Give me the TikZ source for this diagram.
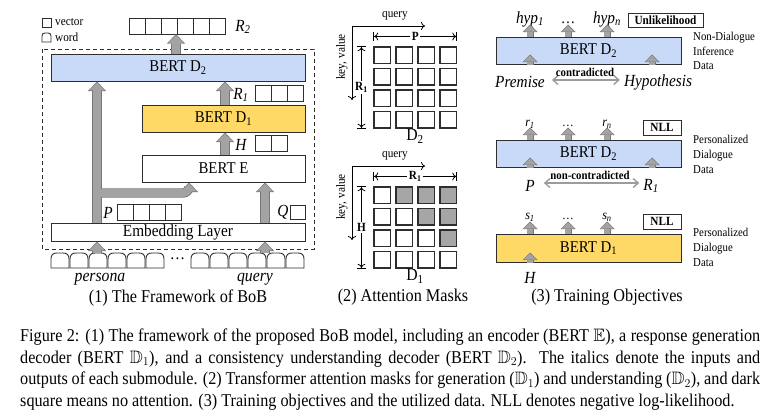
\documentclass[tikz,border=0pt]{standalone}
\usepackage{fontspec}
\usepackage{amssymb}
\setmainfont{Liberation Serif}[FakeStretch=0.9]
\usetikzlibrary{arrows.meta,calc}

\definecolor{dtwo}{HTML}{C9DAF8}
\definecolor{done}{HTML}{FFD966}
\definecolor{arrfill}{HTML}{A3A3A3}
\definecolor{arrdark}{HTML}{777777}
\definecolor{linec}{HTML}{2E2E2E}
\definecolor{maskg}{HTML}{A6A6A6}
\definecolor{dblg}{HTML}{9C9C9C}

\newcommand\fsz[1]{\fontsize{#1}{#1}\selectfont}

\begin{document}
\begin{tikzpicture}[x=1pt, y=-1pt,
    box/.style={draw=linec, line width=1pt, inner sep=0pt, font=\fsz{16.5}},
    vcell/.style={draw=linec, line width=0.9pt, minimum size=16pt, inner sep=0pt},
    mcell/.style={draw=linec, line width=1.1pt, minimum size=16.5pt, inner sep=0pt},
    lab/.style={inner sep=0pt, font=\fsz{17}\itshape},
    slab/.style={inner sep=0pt, font=\fsz{13.5}\itshape},
    tag/.style={draw=linec, line width=1pt, inner sep=0pt, font=\fsz{12.5}\bfseries},
    note/.style={inner sep=0pt, align=left, anchor=west, font=\fontsize{12}{14.8}\selectfont},
    sub/.style={inner sep=0pt, font=\fsz{18}},
    tok/.style={draw=linec, line width=0.9pt},
    bigo/.style={draw=arrdark, line width=9.4pt, -{Triangle[width=18pt,length=9.5pt,line width=0pt]}},
    bigi/.style={draw=arrfill, line width=7.6pt, shorten >=1.1pt, -{Triangle[width=15.4pt,length=7.8pt,line width=0pt]}},
    smlo/.style={draw=arrdark, line width=7pt, -{Triangle[width=15pt,length=7.5pt,line width=0pt]}},
    smli/.style={draw=arrfill, line width=5.4pt, shorten >=1pt, -{Triangle[width=12.8pt,length=6pt,line width=0pt]}},
    axis/.style={draw=black, line width=0.8pt, -{To[length=4pt,width=8pt]}},
    dim/.style={draw=black, line width=0.8pt, {Bar[width=9pt]To[length=4pt,width=8pt]}-{To[length=4pt,width=8pt]Bar[width=9pt]}},
    dimlab/.style={fill=white, inner sep=1.5pt, font=\fsz{12.5}\bfseries},
    dbl/.style={draw=dblg, line width=1.4pt, {Straight Barb[length=5pt,width=9pt]}-{Straight Barb[length=5pt,width=9pt]}}]
\useasboundingbox (0,0) rectangle (782,413);

% (1) 框架
\node[draw=linec, line width=0.8pt, minimum size=9pt, inner sep=0pt] (lgv) at (46.5,22.5) {};
\draw[tok] (42,42) -- (42,36) .. controls (42,34) and (43,33) .. (45,33) -- (48,33) .. controls (50,33) and (51,34) .. (51,36) -- (51,42) -- cycle;
\node[anchor=west, inner sep=0pt, font=\fsz{12.5}] (lgvt) at (55,22.5) {vector};
\node[anchor=west, inner sep=0pt, font=\fsz{12.5}] (lgwt) at (55,37.5) {word};

\draw[linec, line width=1pt, dash pattern=on 4pt off 3pt] (42,49) rectangle (314,249);

\node[box, fill=dtwo, minimum width=254pt, minimum height=27pt] (d2) at (178,67.5) {BERT D\textsubscript{2}};
\node[box, fill=done, minimum width=163pt, minimum height=27pt] (d1) at (223.5,118.5) {BERT D\textsubscript{1}};
\node[box, fill=white, minimum width=163pt, minimum height=27pt] (enc) at (223.5,168.5) {BERT E};
\node[box, fill=white, minimum width=254pt, minimum height=18pt, font=\fsz{17}] (emb) at (178,232) {Embedding Layer};

% 向量
\foreach \i in {0,...,5} \node[vcell] (r2c\i) at (137+16*\i,26) {};
\foreach \i in {0,...,2} \node[vcell] (r1c\i) at (263+16*\i,93) {};
\foreach \i in {0,...,1} \node[vcell] (hc\i) at (263+16*\i,143.5) {};
\foreach \i in {0,...,3} \node[vcell] (pc\i) at (125+16*\i,212.5) {};
\node[vcell, minimum size=14.5pt] (qc0) at (298,212.5) {};

\node[lab] (lr2) at (243,27) {R\textsubscript{2}};
\node[lab] (lr1) at (241,95) {R\textsubscript{1}};
\node[lab] (lh) at (241,145) {H};
\node[lab] (lp) at (108,212.5) {P};
\node[lab] (lq) at (283,212.5) {Q};

% 输入词
\foreach \k in {0,...,5} {
  \foreach \gx in {51,191}
    \draw[tok] (\gx+19*\k,268) -- (\gx+19*\k,259) .. controls (\gx+19*\k,255) and (\gx+2+19*\k,253) .. (\gx+6+19*\k,253)
      -- (\gx+12+19*\k,253) .. controls (\gx+16+19*\k,253) and (\gx+18+19*\k,255) .. (\gx+18+19*\k,259) -- (\gx+18+19*\k,268) -- cycle;
}
\node[inner sep=0pt, font=\fsz{17}] (wdots) at (177.5,259) {\dots};
\node[lab, font=\fsz{17.5}\itshape] (lpers) at (100,279) {persona};
\node[lab, font=\fsz{17.5}\itshape] (lquery) at (255,279) {query};

\coordinate (cp) at (97,253);
\coordinate (cq) at (265,253);
\coordinate (jn) at (97,193);
\coordinate (cb) at (189,0);
\coordinate (cr) at (225,0);
\coordinate (cr2) at (176,34);

\foreach \s in {bigo,bigi} {
  \draw[\s] (cp) -- (emb.south -| cp);
  \draw[\s] (cq) -- (emb.south -| cq);
  \draw[\s] (emb.north -| cp) -- (d2.south -| cp);
  \draw[\s, rounded corners=6pt] (jn) -| (enc.south -| cb);
  \draw[\s] (emb.north -| cq) -- (enc.south -| cq);
  \draw[\s] (enc.north -| cr) -- (d1.south -| cr);
  \draw[\s] (d1.north -| cr) -- (d2.south -| cr);
  \draw[\s] (d2.north -| cr2) -- (cr2);
}

\node[sub] (cap1) at (178,298) {(1) The Framework of BoB};

% (2) 注意力掩码
\foreach \m/\dy/\tp/\sd/\nm in {a/0/P/R\textsubscript{1}/D\textsubscript{2}, b/140/R\textsubscript{1}/H/D\textsubscript{1}} {
  \foreach \i in {0,...,3}
    \foreach \j in {0,...,3} {
      \pgfmathtruncatemacro\gr{(\dy>0)&&(\i>\j)}
      \ifnum\gr=1 \def\fc{maskg}\else\def\fc{white}\fi
      \node[mcell, fill=\fc] (\m\i\j) at (382.25+22*\i,55.25+21.5*\j+\dy) {};
    }
  \coordinate (\m o) at (352,26+\dy);
  \coordinate (\m x) at (425,26+\dy);
  \coordinate (\m y) at (352,100+\dy);
  \draw[axis] (\m o) -- (\m x);
  \draw[axis] (\m o) -- (\m y);
  \node[inner sep=0pt, font=\fsz{12.5}] (\m q) at (395,16+\dy) {query};
  \node[inner sep=0pt, font=\fsz{12.5}, rotate=90] (\m k) at (342,57+\dy) {key, value};
  \draw[dim] ($(\m00.north west)+(0,10pt)$) -- node[dimlab] (\m t) {\tp} ($(\m30.north east)+(0,10pt)$);
  \draw[dim] ($(\m00.north west)+(-12pt,0)$) -- node[dimlab] (\m s) {\sd} ($(\m03.south west)+(-12pt,0)$);
  \node[inner sep=0pt, font=\fsz{17.5}] (\m n) at (415,136+\dy) {\nm};
}
\node[sub] (cap2) at (403,297) {(2) Attention Masks};

% (3) 训练目标
\node[box, fill=dtwo, minimum width=185pt, minimum height=27pt] (t1) at (588.5,50.5) {BERT D\textsubscript{2}};
\node[box, fill=dtwo, minimum width=185pt, minimum height=27pt] (t2) at (588.5,153.5) {BERT D\textsubscript{2}};
\node[box, fill=done, minimum width=185pt, minimum height=28pt] (t3) at (588.5,248) {BERT D\textsubscript{1}};

\node[tag, minimum width=75pt, minimum height=14pt] (ul) at (665.5,20) {Unlikelihood};
\node[tag, minimum width=38pt, minimum height=15pt] (nll1) at (662,127.5) {NLL};
\node[tag, minimum width=38pt, minimum height=15pt] (nll2) at (662,221.5) {NLL};

\node[note] (n1) at (693,51) {Non-Dialogue\\Inference\\Data};
\node[note] (n2) at (693,154.5) {Personalized\\Dialogue\\Data};
\node[note] (n3) at (693,247.5) {Personalized\\Dialogue\\Data};

\node[lab, anchor=base] (hy1) at (530,23) {hyp\textsubscript{1}};
\node[lab, anchor=base, font=\fsz{16}] (hyd) at (568,23) {\dots};
\node[lab, anchor=base] (hyn) at (607,23) {hyp\textsubscript{n}};
\node[slab, anchor=base] (ro1) at (530,126) {r\textsubscript{1}};
\node[slab, anchor=base, font=\fsz{13}] (rod) at (568,126) {\dots};
\node[slab, anchor=base] (ron) at (607,126) {r\textsubscript{n}};
\node[slab, anchor=base] (so1) at (530,219) {s\textsubscript{1}};
\node[slab, anchor=base, font=\fsz{13}] (sod) at (568,219) {\dots};
\node[slab, anchor=base] (son) at (607,219) {s\textsubscript{n}};

\node[lab] (prem) at (520,82) {Premise};
\node[lab] (hypo) at (658,82) {Hypothesis};
\node[lab] (ip) at (530,186) {P};
\node[lab] (ir1) at (651,186) {R\textsubscript{1}};
\node[lab] (ih) at (530,278) {H};

\draw[dbl] ($(prem.east)+(7pt,2pt)$) -- ($(prem.east -| hypo.west)+(-4pt,2pt)$);
\node[inner sep=0pt, font=\fsz{12}\bfseries] (ctr) at (585,72) {contradicted};
\draw[dbl] ($(ip.east)+(9pt,3pt)$) -- ($(ip.east -| ir1.west)+(-4pt,3pt)$);
\node[inner sep=0pt, font=\fsz{12}\bfseries] (nctr) at (590,175) {non-contradicted};

\coordinate (o1) at (530,0);
\coordinate (o2) at (568,0);
\coordinate (o3) at (607,0);
\coordinate (i2) at (652,0);
\foreach \s in {smlo,smli} {
  \foreach \b in {t1,t2,t3}
    \foreach \c in {o1,o2,o3}
      \draw[\s] (\b.north -| \c) -- ++(0,12pt);
  \draw[\s] (t1.south -| o1) -- ++(0,10pt);
  \draw[\s] (t1.south -| i2) -- ++(0,10pt);
  \draw[\s] (t2.south -| o1) -- ++(0,10pt);
  \draw[\s] (t2.south -| i2) -- ++(0,10pt);
  \draw[\s] (t3.south -| o1) -- ++(0,10pt);
}
\node[sub] (cap3) at (607,297) {(3) Training Objectives};

% 图题
\node[anchor=north west, inner sep=0pt, text width=740pt, align=justify, font=\fontsize{18}{21.5}\selectfont] (cap) at (20,329)
  {Figure 2: (1) The framework of the proposed BoB model, including an encoder (BERT $\mathbb{E}$), a response generation\linebreak
   decoder (BERT $\mathbb{D}_1$), and a consistency understanding decoder (BERT $\mathbb{D}_2$).\ \ The italics denote the inputs and\linebreak
   outputs of each submodule. (2) Transformer attention masks for generation ($\mathbb{D}_1$) and understanding ($\mathbb{D}_2$), and dark\linebreak
   square means no attention. (3) Training objectives and the utilized data. NLL denotes negative log-likelihood.};
\end{tikzpicture}
\end{document}
